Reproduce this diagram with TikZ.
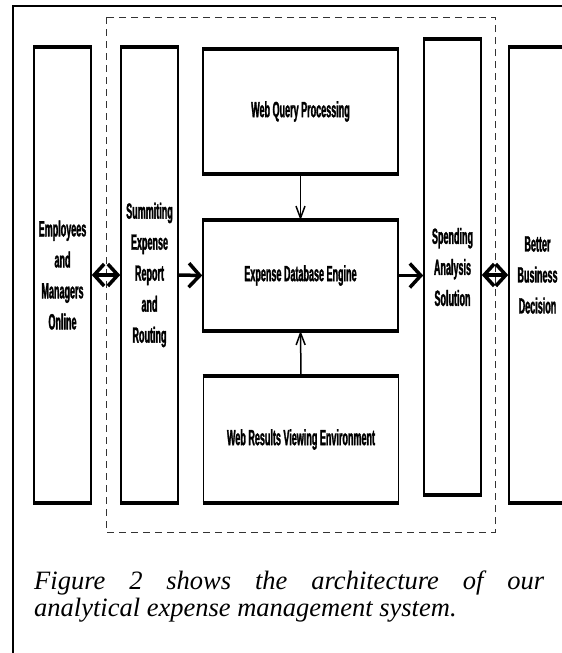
\documentclass[tikz,border=0pt]{standalone}
\usepackage{fontspec}
\setmainfont{Liberation Serif}
\newfontfamily\boxfont{Liberation Sans}[FakeStretch=0.41,FakeBold=1.3]
\usetikzlibrary{arrows.meta}

\tikzset{
  block/.style={draw,line width=1.6pt,inner sep=0pt,align=center,
    font=\boxfont\bfseries\fontsize{22}{31}\selectfont},
  tall/.style={block,minimum width=57,minimum height=454},
  wide/.style={block,minimum width=195},
  edge/.style={line width=4pt},
  twoway/.style={line width=3.5pt,{Straight Barb[length=10pt,width=22pt]}-{Straight Barb[length=10pt,width=22pt]}},
  oneway/.style={line width=3.5pt,-{Straight Barb[length=11pt,width=24pt]}},
  feed/.style={line width=1.5pt,-{Straight Barb[length=12pt,width=9pt]}},
  region/.style={black!80,line width=1pt,dash pattern=on 7pt off 5pt}
}

\begin{document}
\begin{tikzpicture}[x=1pt,y=-1pt]
\useasboundingbox (0,0) rectangle (562,653);
\draw[line width=2pt](13,660)--(13,6)--(570,6);
\draw[region](106,17)rectangle(495,532);

\node[tall] (emp) at (62.5,275) {Employees\\and\\Managers\\Online};
\node[tall] (sub) at (149.5,275) {Summiting\\Expense\\Report\\and\\Routing};
\node[wide,minimum height=123] (query) at (300.5,111.5) {Web Query Processing};
\node[wide,minimum height=109] (db) at (300.5,275.5) {Expense Database Engine};
\node[wide,minimum height=125] (res) at (301,439.5) {Web Results Viewing Environment};
\node[tall] (spend) at (452.5,267) {Spending\\Analysis\\Solution};
\node[tall] (dec) at (537.5,275) {Better\\Business\\Decision};

\foreach \n in {emp,sub,query,db,res,spend,dec}{
  \draw[edge](\n.north west)--(\n.north east);
  \draw[edge](\n.south west)--(\n.south east);
}

\draw[twoway](emp.east)--(sub.west);
\draw[oneway](sub.east)--(db.west);
\draw[oneway](db.east)--(db.east-|spend.west);
\draw[twoway](dec.west-|spend.east)--(dec.west);
\draw[feed](query.south)--(db.north);
\draw[feed](res.north)--(db.south);

\node[anchor=north west,inner sep=0pt,text width=510,align=justify,
  font=\itshape\fontsize{26.5}{27}\selectfont] (caption) at (34,571)
  {Figure 2 shows the architecture of our\linebreak analytical expense management system.};
\end{tikzpicture}
\end{document}
